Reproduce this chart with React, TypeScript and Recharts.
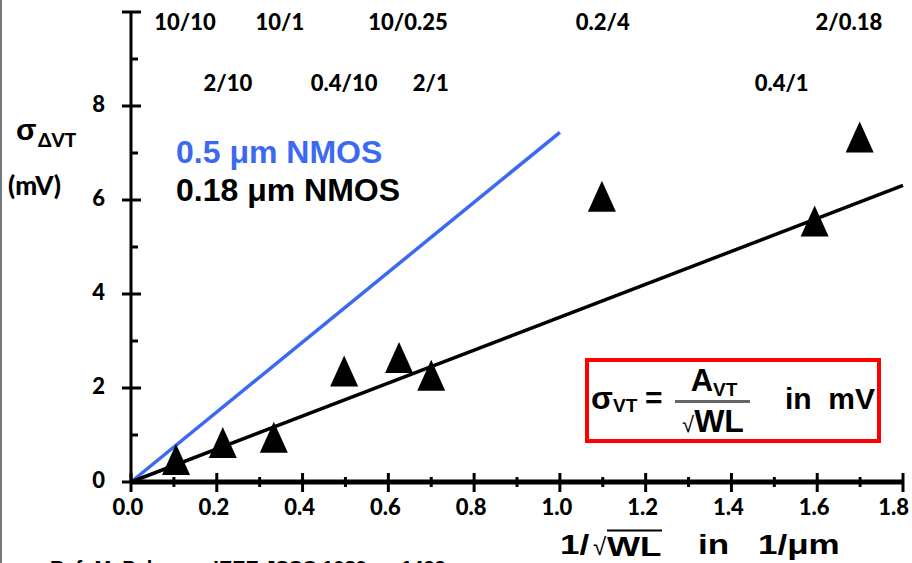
import React from "react";
import { ComposedChart, XAxis, YAxis, Scatter, ReferenceLine } from "recharts";

// measured sigma(dVT) for the 0.18 um NMOS devices
const pointX = [0.105, 0.214, 0.333, 0.497, 0.625, 0.7, 1.098, 1.594, 1.699];
const pointY = [0.47, 0.83, 0.94, 2.35, 2.64, 2.26, 6.07, 5.54, 7.33];

// W/L labels at the top of the plot
const sizeNames = ["10/10", "10/1", "10/0.25", "0.2/4", "2/0.18", "2/10", "0.4/10", "2/1", "0.4/1"];
const sizeLabelX = [0.126, 0.347, 0.646, 1.1, 1.674, 0.226, 0.497, 0.699, 1.517];
const sizeLabelY = [9.79, 9.79, 9.79, 9.79, 9.79, 8.51, 8.51, 8.51, 8.51];

// fitted lines (Avt slope)
const fit018X = [0, 1.8];
const fit018Y = [0, 6.31];
const fit05X = [0, 1.0];
const fit05Y = [0, 7.44];

const xTicks = [0, 0.1, 0.2, 0.3, 0.4, 0.5, 0.6, 0.7, 0.8, 0.9, 1.0, 1.1, 1.2, 1.3, 1.4, 1.5, 1.6, 1.7, 1.8];
const yTicks = [0, 1, 2, 3, 4, 5, 6, 7, 8, 9, 10];

const points = pointX.map((x, i) => ({ x, y: pointY[i] }));
const sizeLabels = sizeNames.map((name, i) => ({ x: sizeLabelX[i], y: sizeLabelY[i], name }));

const GILL = "Lato, 'DejaVu Sans', sans-serif";
const ARIAL = "'Liberation Sans', Arial, sans-serif";
const BLUE = "#3c69f2";

function XTick(props: any) {
  const { x, y, payload } = props;
  const v = payload.value;
  const major = Math.round(v * 10) % 2 === 0;
  const last = v >= 1.8;
  return (
    <g>
      <line x1={x} x2={x} y1={major ? y - 9 : y - 5} y2={major ? y + 10 : y + 5} stroke="#000" strokeWidth={3} />
      {major && (
        <text
          x={last ? x + 6 : x - 3}
          y={y + 24}
          textAnchor={last ? "end" : "middle"}
          dominantBaseline="central"
          fontFamily={GILL}
          fontWeight={900}
          fontSize={22}
          fill="#000"
        >
          {v.toFixed(1)}
        </text>
      )}
    </g>
  );
}

function YTick(props: any) {
  const { x, y, payload } = props;
  const v = payload.value;
  const major = v % 2 === 0;
  return (
    <g>
      <line x1={major ? x - 9 : x} x2={major ? x + 10 : x + 7} y1={y} y2={y} stroke="#000" strokeWidth={3} />
      {major && v < 10 && (
        <text x={x - 26} y={y - 3} textAnchor="end" dominantBaseline="central" fontFamily={GILL} fontWeight={900} fontSize={22} fill="#000">
          {v}
        </text>
      )}
    </g>
  );
}

const triangle = (p: any) => (
  <polygon points={`${p.cx},${p.cy - 16} ${p.cx + 14},${p.cy + 15} ${p.cx - 14},${p.cy + 15}`} fill="#000" />
);

const sizeText = (p: any) => (
  <text x={p.cx} y={p.cy} textAnchor="middle" dominantBaseline="central" fontFamily={GILL} fontWeight={900} fontSize={22} fill="#000">
    {p.payload.name}
  </text>
);

const abs = (left: number, top: number, extra: React.CSSProperties = {}): React.CSSProperties => ({
  position: "absolute",
  left,
  top,
  whiteSpace: "nowrap",
  lineHeight: 1,
  transform: "translateY(-50%)",
  ...extra,
});

const stretched = (left: number, top: number, extra: React.CSSProperties = {}): React.CSSProperties => ({
  ...abs(left, top, extra),
  transform: "translateY(-50%) scaleX(1.25)",
  transformOrigin: "left center",
});

export default function App() {
  return (
    <div style={{ position: "absolute", left: 0, top: 0, width: 912, height: 563, overflow: "hidden", background: "#fff" }}>
      <div style={{ position: "absolute", left: 0, top: 0, width: 2, height: 563, background: "#777" }} />
      <ComposedChart width={912} height={563} margin={{ top: 12, right: 9, bottom: 41, left: 71 }}>
        <XAxis
          type="number"
          dataKey="x"
          domain={[0, 1.8]}
          ticks={xTicks}
          interval={0}
          height={40}
          tickSize={0}
          tickMargin={0}
          tickLine={false}
          axisLine={{ stroke: "#000", strokeWidth: 5 }}
          tick={<XTick />}
          allowDataOverflow
        />
        <YAxis
          type="number"
          dataKey="y"
          domain={[0, 10]}
          ticks={yTicks}
          interval={0}
          width={60}
          tickSize={0}
          tickMargin={0}
          tickLine={false}
          axisLine={{ stroke: "#000", strokeWidth: 3 }}
          tick={<YTick />}
          allowDataOverflow
        />
        <ReferenceLine
          segment={[{ x: fit05X[0], y: fit05Y[0] }, { x: fit05X[1], y: fit05Y[1] }]}
          stroke={BLUE}
          strokeWidth={3.5}
          ifOverflow="visible"
        />
        <ReferenceLine
          segment={[{ x: fit018X[0], y: fit018Y[0] }, { x: fit018X[1], y: fit018Y[1] }]}
          stroke="#000"
          strokeWidth={3.5}
          ifOverflow="visible"
        />
        <Scatter data={points} shape={triangle} isAnimationActive={false} />
        <Scatter data={sizeLabels} shape={sizeText} isAnimationActive={false} />
      </ComposedChart>

      {/* y axis title */}
      <span style={abs(16, 130, { fontFamily: ARIAL, fontSize: 30, fontWeight: 700 })}>σ</span>
      <span style={abs(38, 139, { fontFamily: GILL, fontSize: 19, fontWeight: 900 })}>ΔVT</span>
      <span style={abs(8, 185, { fontFamily: GILL, fontSize: 26, fontWeight: 900 })}>(mV)</span>

      {/* legend texts */}
      <span style={abs(176, 152, { fontFamily: ARIAL, fontSize: 32, fontWeight: 700, color: BLUE })}>0.5 μm NMOS</span>
      <span style={abs(176, 190, { fontFamily: ARIAL, fontSize: 32, fontWeight: 700, color: "#000" })}>0.18 μm NMOS</span>

      {/* formula box */}
      <div
        style={{
          position: "absolute",
          left: 585,
          top: 358,
          width: 288,
          height: 77,
          border: "4px solid #f00",
          fontFamily: ARIAL,
          fontWeight: 700,
          color: "#000",
        }}
      >
        <span style={abs(2, 36, { fontSize: 32 })}>σ</span>
        <span style={abs(24, 43, { fontSize: 19 })}>VT</span>
        <span style={abs(56, 36, { fontSize: 30 })}>=</span>
        <span style={{ ...abs(125, 18, { fontSize: 31 }), transform: "translate(-50%, -50%)" }}>
          A<span style={{ fontSize: 19, position: "relative", top: 5 }}>VT</span>
        </span>
        <div style={{ position: "absolute", left: 86, top: 38, width: 75, height: 3, background: "#666" }} />
        <span style={{ ...abs(124, 59, { fontSize: 32 }), transform: "translate(-50%, -50%)" }}>
          <span style={{ fontWeight: 400, fontSize: 22 }}>√</span>WL
        </span>
        <span style={abs(196, 37, { fontSize: 30 })}>in&nbsp;&nbsp;mV</span>
      </div>

      {/* x axis title */}
      <span style={stretched(560, 545, { fontFamily: ARIAL, fontSize: 28, fontWeight: 700 })}>1/</span>
      <span style={abs(593, 547, { fontFamily: ARIAL, fontSize: 24 })}>√</span>
      <span style={stretched(607, 545, { fontFamily: ARIAL, fontSize: 28, fontWeight: 700, borderTop: "2px solid #000", paddingTop: 1 })}>WL</span>
      <span style={stretched(698, 545, { fontFamily: ARIAL, fontSize: 28, fontWeight: 700 })}>in</span>
      <span style={stretched(758, 545, { fontFamily: ARIAL, fontSize: 28, fontWeight: 700 })}>1/μm</span>

      {/* reference, cut off by the page edge */}
      <span style={{ position: "absolute", left: 50, top: 558, fontFamily: ARIAL, fontSize: 20, fontWeight: 700, lineHeight: 1, whiteSpace: "nowrap" }}>
        Ref: M. Pelgrom, IEEE JSSC 1989, p. 1433
      </span>
    </div>
  );
}
